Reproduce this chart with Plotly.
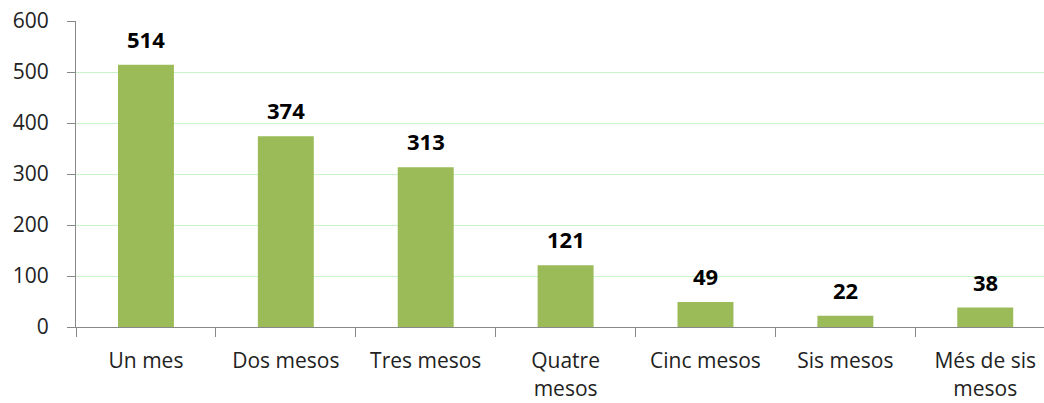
import plotly.graph_objects as go

categories = ["Un mes", "Dos mesos", "Tres mesos", "Quatre<br>mesos", "Cinc mesos", "Sis mesos", "Més de sis<br>mesos"]
values = [514, 374, 313, 121, 49, 22, 38]
y_ticks = [0, 100, 200, 300, 400, 500, 600]

FONT = "'Open Sans', Lato, sans-serif"

fig = go.Figure()
fig.add_trace(go.Bar(
    x=categories, y=values,
    marker=dict(color="#9BBB59", line=dict(width=0)),
    width=0.4,
))

for c, v in zip(categories, values):
    fig.add_annotation(x=c, y=v, text=f"<b>{v}</b>", showarrow=False,
                       yanchor="bottom", yshift=9,
                       font=dict(family=FONT, size=22, color="#000000"))

fig.update_layout(
    width=1044, height=403,
    margin=dict(l=76, r=0, t=21, b=76),
    paper_bgcolor="white", plot_bgcolor="white",
    showlegend=False,
    font=dict(family=FONT, size=21, color="#222222"),
)
fig.update_xaxes(
    type="category", range=[-0.5, 6.42], automargin=False,
    showline=True, linecolor="#888888", linewidth=1,
    ticks="outside", tickson="boundaries", ticklen=9, tickcolor="#888888",
    ticklabelstandoff=15, ticklabeloverflow="allow",
    showgrid=False, tickfont=dict(family=FONT, size=21, color="#222222"),
)
fig.update_yaxes(
    range=[0, 600], tickvals=y_ticks, automargin=False,
    showline=True, linecolor="#888888", linewidth=1,
    ticks="outside", ticklen=8, tickcolor="#888888",
    ticklabelstandoff=14, ticklabeloverflow="allow",
    showgrid=True, gridcolor="#C8F5C8", gridwidth=1,
    zeroline=False,
    tickfont=dict(family=FONT, size=21, color="#222222"),
)

fig.write_html("out.html",
               config={"displayModeBar": False},
               post_script="document.body.style.margin='0';document.body.style.overflow='hidden';")
